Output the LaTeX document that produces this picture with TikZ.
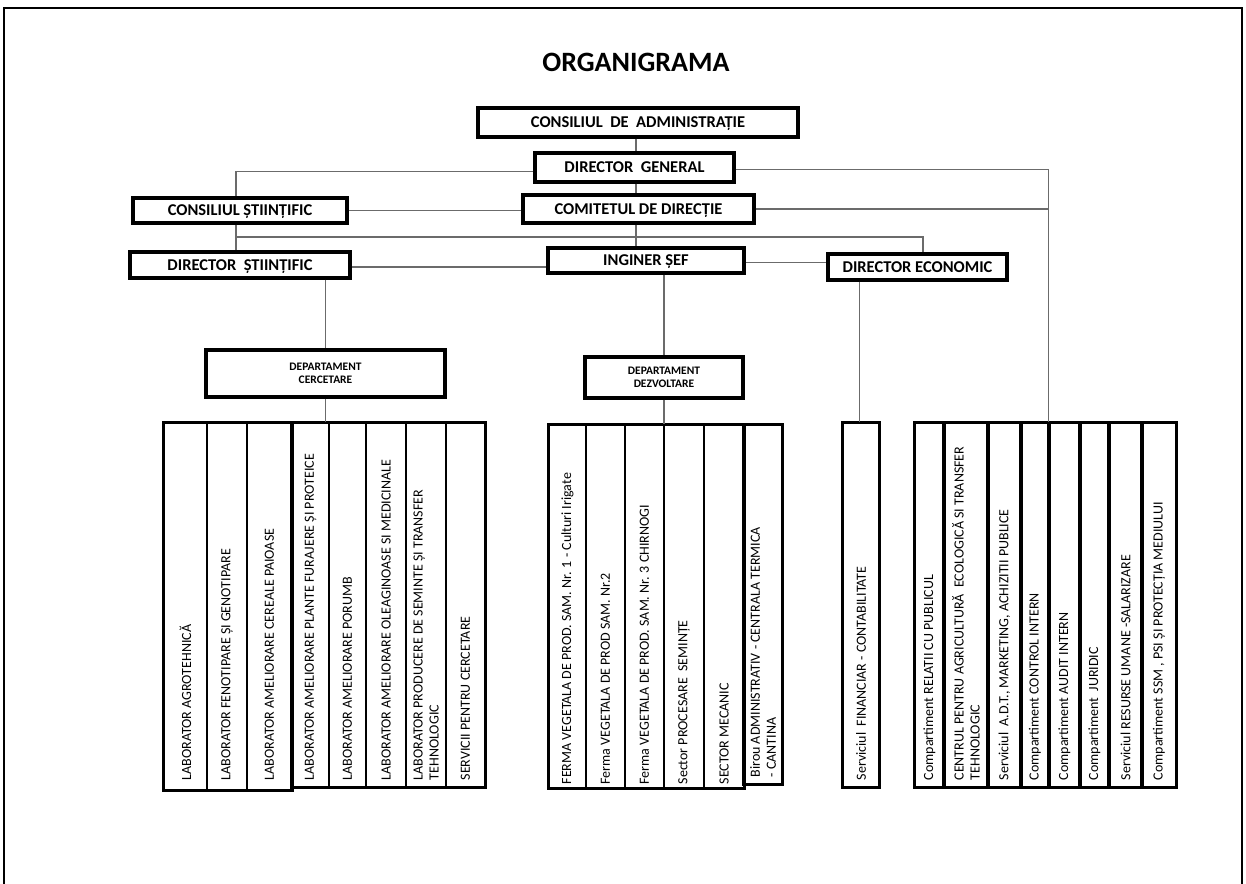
\documentclass[tikz,border=0pt]{standalone}
\usepackage{fontspec}
\setmainfont{Carlito}
\newcommand\mkcell[7]{%
  \node[cell,minimum width={#3-#2},minimum height={#5-#4}] (#1) at ({(#2+#3)/2},{(#4+#5)/2}) {};
  \node[lbl] (#1t) at ([yshift=#7pt]#1.south) {#6};}
\begin{document}
\begin{tikzpicture}[x=1pt,y=-1pt,
  box/.style={draw=black,line width=3.2pt,fill=white,inner sep=0pt,text height=10.8pt,text depth=0pt,font=\bfseries\fontsize{16.5}{18}\selectfont},
  dept/.style={draw=black,line width=3.2pt,fill=white,inner sep=0pt,align=center,font=\bfseries\fontsize{11.5}{13.5}\selectfont},
  con/.style={draw=black!58,line width=1.1pt},
  cell/.style={draw=black,line width=1.1pt,inner sep=0pt},
  grp/.style={draw=black,line width=2.4pt},
  lbl/.style={rotate=90,anchor=west,inner sep=0pt,align=left,font=\fontsize{14}{16}\selectfont}]
\useasboundingbox (0,0) rectangle (1246,883);
\draw[line width=1.2pt] (4,900) -- (4,8) -- (1242,8) -- (1242,900);
\node[font=\bfseries\fontsize{28}{30}\selectfont] (title) at (636,62) {ORGANIGRAMA};

% main boxes
\node[box,minimum width=320,minimum height=29] (cda) at (638,122.5) {CONSILIUL~~DE~~ADMINISTRAȚIE};
\node[box,minimum width=199,minimum height=29] (dg) at (634.5,167.5) {DIRECTOR~~GENERAL};
\node[box,minimum width=231,minimum height=28] (com) at (638.5,209) {COMITETUL DE DIRECȚIE};
\node[box,minimum width=214,minimum height=25] (cs) at (240,210.5) {CONSILIUL ȘTIINȚIFIC};
\node[box,minimum width=220,minimum height=26] (ds) at (240,265) {DIRECTOR~~ȘTIINȚIFIC};
\node[box,minimum width=196,minimum height=25] (is) at (646,260.5) {INGINER ȘEF};
\node[box,minimum width=179,minimum height=26] (de) at (917.5,267) {DIRECTOR ECONOMIC};
\node[dept,minimum width=239,minimum height=47] (dc) at (325.5,373.5) {DEPARTAMENT\\CERCETARE};
\node[dept,minimum width=158,minimum height=41] (dd) at (664,377.5) {DEPARTAMENT\\DEZVOLTARE};

% research columns
\mkcell{l1}{164}{207}{423}{790}{LABORATOR AGROTEHNICĂ}{10}
\mkcell{l2}{207}{247}{423}{790}{LABORATOR FENOTIPARE ȘI GENOTIPARE}{10}
\mkcell{l3}{247}{292}{423}{790}{LABORATOR AMELIORARE CEREALE PAIOASE}{10}
\mkcell{l4}{292}{329}{423}{787}{LABORATOR AMELIORARE PLANTE FURAJERE ȘI PROTEICE}{7}
\mkcell{l5}{329}{366}{423}{787}{LABORATOR AMELIORARE PORUMB}{7}
\mkcell{l6}{366}{406}{423}{787}{LABORATOR AMELIORARE OLEAGINOASE SI MEDICINALE}{7}
\mkcell{l7}{406}{446}{423}{787}{LABORATOR PRODUCERE DE SEMINTE ȘI TRANSFER\\TEHNOLOGIC}{7}
\mkcell{l8}{446}{485}{423}{787}{SERVICII PENTRU CERCETARE}{7}
\draw[grp] (l1.north west) rectangle (l3.south east);
\draw[grp] (l4.north west) rectangle (l8.south east);

% development columns
\mkcell{d1}{549}{586}{425}{788}{FERMA VEGETALA DE PROD. SAM. Nr. 1 - Culturi Irigate}{4}
\mkcell{d2}{586}{625}{425}{788}{Ferma VEGETALA DE PROD SAM. Nr.2}{4}
\mkcell{d3}{625}{664}{425}{788}{Ferma VEGETALA DE PROD. SAM. Nr. 3 CHIRNOGI}{4}
\mkcell{d4}{664}{704}{425}{788}{Sector PROCESARE~~SEMINȚE}{4}
\mkcell{d5}{704}{744}{425}{788}{SECTOR MECANIC}{4}
\mkcell{d6}{744}{782}{425}{784}{Birou ADMINISTRATIV - CENTRALA TERMICA\\- CANTINA}{7}
\draw[grp] (d1.north west) rectangle (d5.south east);
\draw[grp] (d6.north west) rectangle (d6.south east);

% financial
\mkcell{f1}{843}{879}{423}{787}{Serviciul~~FINANCIAR - CONTABILITATE}{7}
\draw[grp] (f1.north west) rectangle (f1.south east);

% staff columns
\mkcell{r1}{915}{944}{423}{787}{Compartiment RELATII CU PUBLICUL}{7}
\mkcell{r2}{944}{988}{423}{787}{CENTRUL PENTRU AGRICULTURĂ~~ECOLOGICĂ SI TRANSFER\\TEHNOLOGIC}{7}
\mkcell{r3}{988}{1021}{423}{787}{Serviciul~~A.D.T., MARKETING, ACHIZITII PUBLICE}{7}
\mkcell{r4}{1021}{1049}{423}{787}{Compartiment CONTROL INTERN}{7}
\mkcell{r5}{1049}{1080}{423}{787}{Compartiment AUDIT INTERN}{7}
\mkcell{r6}{1080}{1109}{423}{787}{Compartiment~~JURIDIC}{7}
\mkcell{r7}{1109}{1142}{423}{787}{Serviciul RESURSE UMANE -SALARIZARE}{7}
\mkcell{r8}{1142}{1176}{423}{787}{Compartiment SSM , PSI ȘI PROTECȚIA MEDIULUI}{7}
\foreach \c in {r1,r2,r3,r4,r5,r6,r7,r8}{\draw[line width=2pt] (\c.north west) rectangle (\c.south east);}

% connectors
\coordinate (vx) at (636,0);
\coordinate (vr) at (1049,0);
\coordinate (vl) at (236,0);
\coordinate (hmid) at (0,237);
\coordinate (ve) at (923,0);
\draw[con] (cda.south -| vx) -- (dg.north -| vx);
\draw[con] (dg.south -| vx) -- (com.north -| vx);
\draw[con] (com.south -| vx) -- (is.north -| vx);
\draw[con] ([yshift=-4pt]dg.west) -| (cs.north -| vl);
\draw[con] ([yshift=-2pt]dg.east) -| (r5.north west);
\draw[con] (com.east) -- (com.east -| vr);
\draw[con] (cs.east) -- (cs.east -| com.west);
\draw[con] (cs.south -| vl) -- (ds.north -| vl);
\draw[con] (hmid -| vl) -| (de.north -| ve);
\draw[con] ([yshift=-2pt]ds.east) -- ([yshift=-2pt]ds.east -| is.west);
\draw[con] ([yshift=-2pt]is.east) -- ([yshift=-2pt]is.east -| de.west);
\draw[con] (ds.south -| dc.north) -- (dc.north);
\draw[con] (dc.south) -- (dc.south |- l4.north);
\draw[con] (is.south -| dd.north) -- (dd.north);
\draw[con] (dd.south) -- (dd.south |- d4.north);
\draw[con] ([xshift=-58pt]de.south) -- ([xshift=-58pt]de.south |- f1.north);
\end{tikzpicture}
\end{document}
